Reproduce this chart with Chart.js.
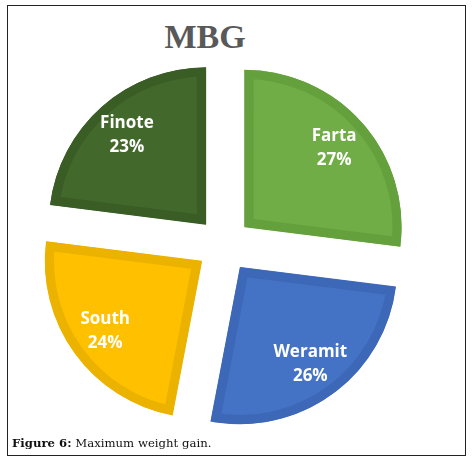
<!DOCTYPE html>
<html>
<head>
<meta charset="utf-8">
<script src="https://cdn.jsdelivr.net/npm/chart.js@4"></script>
<style>
  body { margin: 0; background: #fff; }
  #wrap { position: relative; width: 473px; height: 462px; }
  #frame { position: absolute; left: 7px; top: 5px; width: 457px; height: 449px; border: 1px solid #222; }
  #title { position: absolute; left: 150px; width: 110px; top: 18px; text-align: center;
    font-family: "Liberation Serif", serif; font-weight: bold; font-size: 34px; color: #595959; }
  #caption { position: absolute; left: 12px; top: 436px; font-family: "DejaVu Serif", serif; font-size: 11.7px; color: #111; }
  canvas { position: absolute; left: 0; top: 0; }
</style>
</head>
<body>
<div id="wrap">
  <div id="frame"></div>
  <div id="title">MBG</div>
  <canvas id="myChart" width="473" height="462"></canvas>
  <div id="caption"><b>Figure 6:</b> Maximum weight gain.</div>
</div>
<script>
const labels = ["Farta", "Weramit", "South", "Finote"];
const values = [27, 26, 24, 23];
const fillColors = ["#70ad47", "#4472c4", "#ffc000", "#43682b"];
const edgeColors = ["#64a03c", "#3d68b8", "#ecb200", "#3a5c25"];

// white label inside each exploded slice
const sliceLabels = {
  id: "sliceLabels",
  afterDatasetsDraw(chart) {
    const ctx = chart.ctx;
    const meta = chart.getDatasetMeta(0);
    ctx.save();
    ctx.fillStyle = "#ffffff";
    ctx.textAlign = "center";
    ctx.textBaseline = "middle";
    ctx.font = "bold 17px 'Open Sans', Lato, sans-serif";
    meta.data.forEach((arc, i) => {
      const mid = (arc.startAngle + arc.endAngle) / 2;
      const d = arc.outerRadius * 0.76 + (arc.options.offset || 0) / 4;
      const x = arc.x + Math.cos(mid) * d;
      const y = arc.y + Math.sin(mid) * d;
      ctx.fillText(labels[i], x, y - 12);
      ctx.fillText(values[i] + "%", x, y + 12);
    });
    ctx.restore();
  }
};

const ctx = document.getElementById("myChart");
new Chart(ctx, {
  type: "pie",
  data: {
    labels: labels,
    datasets: [{
      data: values,
      backgroundColor: fillColors,
      borderColor: edgeColors,
      borderWidth: 9,
      borderAlign: "inner",
      offset: 110,
      hoverOffset: 0
    }]
  },
  options: {
    responsive: false,
    animation: false,
    radius: 157,
    layout: { padding: { left: 0, right: 25, top: 28, bottom: 0 } },
    plugins: {
      legend: { display: false },
      tooltip: { enabled: false }
    }
  },
  plugins: [sliceLabels]
});
</script>
</body>
</html>
